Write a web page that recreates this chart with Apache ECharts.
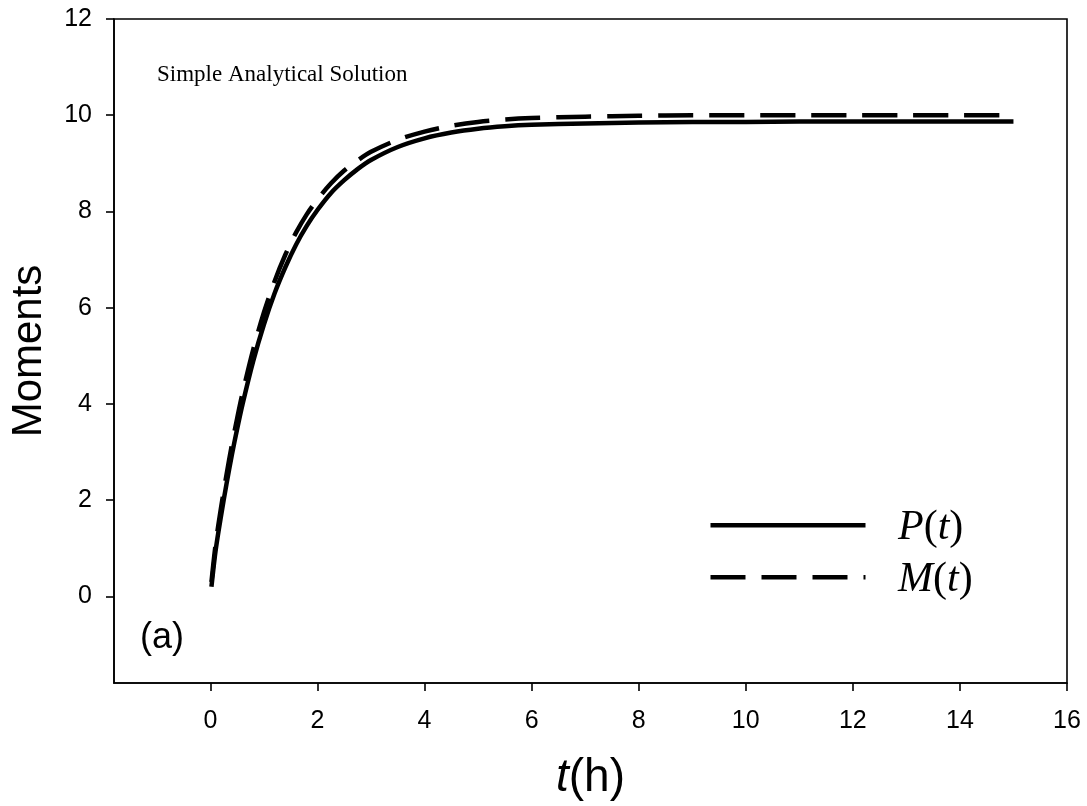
<!DOCTYPE html>
<html>
<head>
<meta charset="utf-8">
<script src="https://cdn.jsdelivr.net/npm/echarts@6/dist/echarts.min.js"></script>
<style>
  html, body { margin: 0; padding: 0; background: #fff; }
  #chart { width: 1087px; height: 806px; }
</style>
</head>
<body>
<div id="chart"></div>
<script>
// Time points (hours)
const timeP = [0.02, 0.1, 0.2, 0.3, 0.4, 0.5, 0.6, 0.8, 1.0, 1.2, 1.4, 1.6, 1.8, 2.0, 2.25, 2.5, 2.75, 3.0, 3.5, 4.0, 4.5, 5.0, 5.5, 6, 7, 8, 9, 10, 11, 12, 13, 14, 15];
// P(t) moment
const valuesP = [0.20, 0.97, 1.68, 2.33, 2.93, 3.48, 3.99, 4.89, 5.65, 6.30, 6.84, 7.31, 7.70, 8.03, 8.38, 8.65, 8.88, 9.07, 9.34, 9.52, 9.64, 9.72, 9.77, 9.80, 9.83, 9.85, 9.86, 9.86, 9.87, 9.87, 9.87, 9.87, 9.87];
// M(t) moment
const timeM = [0.02, 0.1, 0.2, 0.3, 0.4, 0.5, 0.6, 0.8, 1.0, 1.2, 1.4, 1.6, 1.8, 2.0, 2.25, 2.5, 2.75, 3.0, 3.5, 4.0, 4.5, 5.0, 5.5, 6, 7, 8, 9, 10, 11, 12, 13, 14, 15];
const valuesM = [0.30, 1.10, 1.85, 2.52, 3.14, 3.70, 4.22, 5.13, 5.90, 6.55, 7.10, 7.56, 7.94, 8.25, 8.58, 8.85, 9.06, 9.24, 9.49, 9.66, 9.78, 9.86, 9.91, 9.94, 9.97, 9.99, 10.0, 10.0, 10.0, 10.0, 10.0, 10.0, 10.0];

// Tick labels
const xTicks = [0, 2, 4, 6, 8, 10, 12, 14, 16];
const yTicks = [0, 2, 4, 6, 8, 10, 12];

const SANS = '"Liberation Sans", Arial, sans-serif';
const SERIF = '"Liberation Serif", "Times New Roman", serif';
const LINE_W = 4.5;
const DASH = [35, 16];

const pairs = (xs, ys) => xs.map((x, i) => [x, ys[i]]);

const chart = echarts.init(document.getElementById('chart'), null, { renderer: 'canvas' });

// Key entries: a sample stroke followed by the italic series name
function keyEntry(label, top, dash) {
  return [
    {
      type: 'line', left: 708, top: top - LINE_W / 2,
      shape: { x1: 0, y1: 0, x2: 155, y2: 0 },
      style: { stroke: '#000', lineWidth: LINE_W, lineDash: dash, lineCap: 'butt' }
    },
    {
      type: 'text', left: 898, top: top - 18,
      style: {
        text: '{i|' + label + '}{r|(}{i|t}{r|)}',
        rich: {
          i: { fontFamily: SERIF, fontSize: 42, fontStyle: 'italic', fill: '#000', lineHeight: 48 },
          r: { fontFamily: SERIF, fontSize: 42, fill: '#000', lineHeight: 48 }
        }
      }
    }
  ];
}

chart.setOption({
  animation: false,
  backgroundColor: '#fff',
  grid: {
    left: 113, right: 20, top: 19, bottom: 119,
    show: true, borderColor: '#000', borderWidth: 1.6, backgroundColor: 'transparent'
  },
  xAxis: {
    type: 'value',
    min: -1.8, max: 16,
    name: '{i|t}{r|(h)}',
    nameLocation: 'middle',
    nameGap: 72,
    nameTextStyle: {
      rich: {
        i: { fontFamily: SANS, fontSize: 46, fontStyle: 'italic', color: '#000' },
        r: { fontFamily: SANS, fontSize: 46, color: '#000' }
      }
    },
    axisLine: { show: true, onZero: false, lineStyle: { color: '#000', width: 1.6 } },
    axisTick: { show: true, inside: false, length: 8, customValues: xTicks, lineStyle: { color: '#000', width: 1.6 } },
    axisLabel: { customValues: xTicks, margin: 26, fontFamily: SANS, fontSize: 25, color: '#000' },
    splitLine: { show: false }
  },
  yAxis: {
    type: 'value',
    min: -1.8, max: 12,
    name: 'Moments',
    nameLocation: 'middle',
    nameRotate: 90,
    nameGap: 64,
    nameTextStyle: { fontFamily: SANS, fontSize: 42, color: '#000' },
    axisLine: { show: true, onZero: false, lineStyle: { color: '#000', width: 1.6 } },
    axisTick: { show: true, inside: false, length: 8, customValues: yTicks, lineStyle: { color: '#000', width: 1.6 } },
    axisLabel: { customValues: yTicks, margin: 22, fontFamily: SANS, fontSize: 25, color: '#000' },
    splitLine: { show: false }
  },
  graphic: [
    {
      type: 'text', left: 157, top: 63,
      style: { text: 'Simple Analytical Solution', font: '23px ' + SERIF, fill: '#000' }
    },
    {
      type: 'text', left: 140, top: 620,
      style: { text: '(a)', font: '36px ' + SANS, fill: '#000' }
    }
  ].concat(keyEntry('P', 525, null), keyEntry('M', 577, DASH)),
  series: [
    {
      name: 'P(t)', type: 'line', data: pairs(timeP, valuesP),
      smooth: 0.3, symbol: 'none', showSymbol: false,
      lineStyle: { color: '#000', width: LINE_W, type: 'solid' }
    },
    {
      name: 'M(t)', type: 'line', data: pairs(timeM, valuesM),
      smooth: 0.3, symbol: 'none', showSymbol: false,
      lineStyle: { color: '#000', width: LINE_W, type: DASH }
    }
  ]
});
</script>
</body>
</html>
